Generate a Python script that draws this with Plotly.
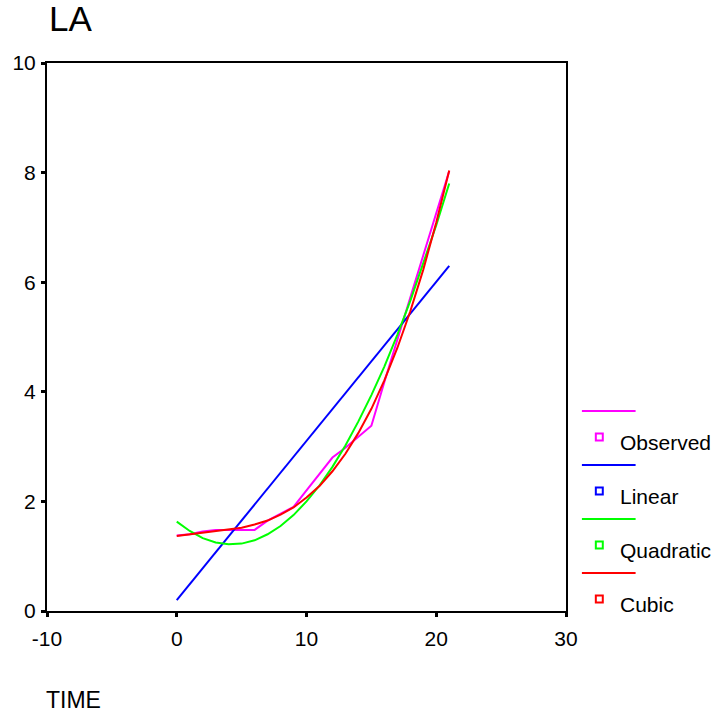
import plotly.graph_objects as go

# ---- data ----
time = list(range(22))
observed = [1.38, 1.40, 1.45, 1.48, 1.48, 1.48, 1.48, 1.65, 1.78, 1.90, 2.20,
            2.50, 2.80, 2.98, 3.18, 3.38, 4.18, 4.95, 5.71, 6.48, 7.25, 8.03]
linear = [0.20, 0.49, 0.78, 1.07, 1.36, 1.65, 1.94, 2.23, 2.52, 2.81, 3.10,
          3.40, 3.69, 3.98, 4.27, 4.56, 4.85, 5.14, 5.43, 5.72, 6.01, 6.30]
quadratic = [1.63, 1.46, 1.33, 1.25, 1.22, 1.23, 1.29, 1.40, 1.55, 1.75, 2.00,
             2.29, 2.63, 3.02, 3.46, 3.94, 4.46, 5.04, 5.66, 6.33, 7.04, 7.80]
cubic = [1.37, 1.40, 1.43, 1.45, 1.48, 1.52, 1.58, 1.65, 1.76, 1.89, 2.07,
         2.28, 2.55, 2.87, 3.25, 3.69, 4.21, 4.80, 5.47, 6.23, 7.09, 8.04]

series_names = ["Observed", "Linear", "Quadratic", "Cubic"]
series_values = [observed, linear, quadratic, cubic]
series_colors = ["#FF00FF", "#0000FF", "#00FF00", "#FF0000"]

x_ticks = [-10, 0, 10, 20, 30]
x_tick_labels = ["-10", "0", "10", "20", "30"]
y_ticks = [0, 2, 4, 6, 8, 10]
y_tick_labels = ["0", "2", "4", "6", "8", "10"]

FONT = "Liberation Sans, Arial, sans-serif"
W, H = 718, 721
# plot frame in reference pixels: left 44, right 566, top 63, bottom 611
L, T = 44, 63
R = W - 566
B = H - 611
PW, PH = W - L - R, H - T - B


def px(xr):
    return (xr - L) / PW


def py(yr):
    return (H - B - yr) / PH


fig = go.Figure()
for name, vals, col in zip(series_names, series_values, series_colors):
    fig.add_trace(go.Scatter(x=time, y=vals, mode="lines", name=name,
                             line=dict(color=col, width=2), showlegend=False))

axis_common = dict(showline=True, linewidth=2, linecolor="black", mirror=True,
                   ticks="outside", ticklen=4, tickwidth=3, tickcolor="black",
                   showgrid=False, zeroline=False,
                   tickfont=dict(family=FONT, size=21, color="black"))

fig.update_xaxes(range=[-10, 30], tickvals=x_ticks, ticktext=x_tick_labels,
                 ticklabelstandoff=4, **axis_common)
fig.update_yaxes(range=[0, 10], tickvals=y_ticks, ticktext=y_tick_labels,
                 ticklabelstandoff=1, **axis_common)

shapes = []
annotations = []
# custom legend: line sample, then small square + label below
for i, (name, col) in enumerate(zip(series_names, series_colors)):
    ly = 411 + i * 54
    shapes.append(dict(type="line", xref="paper", yref="paper",
                       x0=px(582), x1=px(636), y0=py(ly), y1=py(ly),
                       line=dict(color=col, width=2)))
    sy = ly + 26
    shapes.append(dict(type="rect", xref="paper", yref="paper",
                       x0=px(596), x1=px(603), y0=py(sy - 3.5), y1=py(sy + 3.5),
                       line=dict(color=col, width=2), fillcolor="rgba(0,0,0,0)"))
    annotations.append(dict(xref="paper", yref="paper", x=px(618), y=py(sy + 5),
                            xanchor="left", yanchor="middle", showarrow=False,
                            text=name, font=dict(family=FONT, size=21, color="black")))

annotations.append(dict(xref="paper", yref="paper", x=px(44), y=py(18),
                        xanchor="left", yanchor="middle", showarrow=False,
                        height=32, valign="middle",
                        text="LA", font=dict(family=FONT, size=35, color="black")))
annotations.append(dict(xref="paper", yref="paper", x=px(41), y=py(700),
                        xanchor="left", yanchor="middle", showarrow=False,
                        text="TIME", font=dict(family=FONT, size=23, color="black")))

fig.update_layout(width=W, height=H, margin=dict(l=L, r=R, t=T, b=B),
                  paper_bgcolor="white", plot_bgcolor="white",
                  shapes=shapes, annotations=annotations, showlegend=False)

fig.write_html("out.html", config={"displayModeBar": False},
               post_script="document.body.style.margin='0px';"
                           "document.body.style.overflow='hidden';")
